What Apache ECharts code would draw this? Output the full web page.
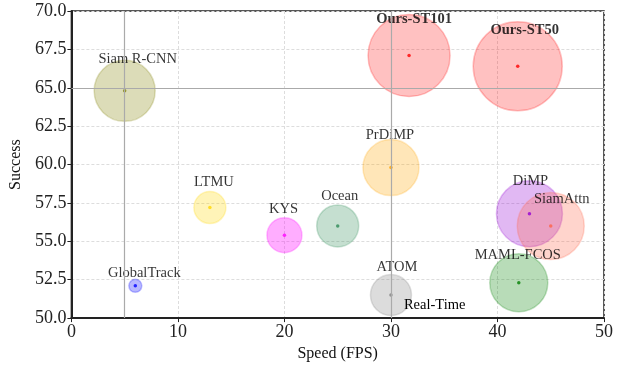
<!DOCTYPE html>
<html><head><meta charset="utf-8">
<script src="https://cdn.jsdelivr.net/npm/echarts@6/dist/echarts.min.js"></script>
<style>html,body{margin:0;padding:0;background:#fff}#c{width:623px;height:367px}</style>
</head><body><div id="c"></div>
<script>
const trackers = ['Siam R-CNN','Ours-ST101','Ours-ST50','PrDiMP','LTMU','KYS','GlobalTrack','Ocean','ATOM','DiMP','SiamAttn','MAML-FCOS'];
const speedFps = [5, 31.7, 41.9, 30, 13, 20, 6, 25, 30, 43, 45, 42];
const success = [64.8, 67.1, 66.4, 59.8, 57.2, 55.4, 52.1, 56.0, 51.5, 56.8, 56.0, 52.3];
const bubbleSize = [61, 82, 89, 56, 32, 35, 13, 42, 41, 66, 67, 58];
const xTicks = [0, 10, 20, 30, 40, 50];
const yTicks = [50, 52.5, 55, 57.5, 60, 62.5, 65, 67.5, 70];
const refSpeed = [5, 30];
const refSuccess = [65];
const realTimeNote = {name: 'Real-Time', x: 34.1, y: 50.85};

// styles
const baseColors = ['#808000','#ff0000','#ff0000','#ffa500','#ffd700','#ff00ff','#0000ff','#2e8b57','#808080','#9400d3','#ff6347','#008000'];
const fillAlpha = [0.35,0.3,0.3,0.35,0.35,0.4,0.35,0.35,0.35,0.35,0.35,0.35];
const labelOffset = [[13,-32],[5,-36],[7,-36],[-1,-32],[4,-25],[-1,-26],[9,-13],[2,-30],[6,-28],[1,-32],[11,-27],[-1,-28]];
const boldLabel = [false,true,true,false,false,false,false,false,false,false,false,false];

function rgba(hex,a){const n=parseInt(hex.slice(1),16);return `rgba(${n>>16&255},${n>>8&255},${n&255},${a})`;}
const font = '"Liberation Serif", "DejaVu Serif", serif';

const bubbles = trackers.map((t,i)=>({
  name:t, value:[speedFps[i], success[i]], symbolSize:bubbleSize[i],
  itemStyle:{color:rgba(baseColors[i],fillAlpha[i]), borderColor:rgba(baseColors[i],0.3), borderWidth:1.5},
  label:{show:true, formatter:t, position:'inside', offset:labelOffset[i], color:'#000',
    textBorderWidth:0, textBorderColor:'transparent',
    fontFamily:font, fontSize:14.5, fontWeight: boldLabel[i]?'bold':'normal'}
}));
const dots = trackers.map((t,i)=>({value:[speedFps[i], success[i]], itemStyle:{color:baseColors[i]}}));

const chart = echarts.init(document.getElementById('c'), null, {renderer:'canvas'});
chart.setOption({
  animation:false,
  grid:{left:70, right:19, top:11, bottom:48, show:true, borderColor:'#222', borderWidth:1.5},
  xAxis:{type:'value', min:xTicks[0], max:xTicks[xTicks.length-1], interval:10,
    name:'Speed (FPS)', nameLocation:'middle', nameGap:24,
    nameTextStyle:{fontFamily:font, fontSize:16, color:'#111'},
    axisLine:{show:true, lineStyle:{color:'#222', width:2}},
    axisTick:{show:true, length:4, lineStyle:{color:'#222'}},
    axisLabel:{fontFamily:font, fontSize:18, color:'#222', margin:5},
    splitLine:{show:true, lineStyle:{color:'#ddd', type:[3,2], width:1}}},
  yAxis:{type:'value', min:yTicks[0], max:yTicks[yTicks.length-1], interval:2.5,
    name:'Success', nameLocation:'middle', nameGap:46,
    nameTextStyle:{fontFamily:font, fontSize:16, color:'#111'},
    axisLine:{show:true, lineStyle:{color:'#222', width:2}},
    axisTick:{show:true, length:4, lineStyle:{color:'#222'}},
    axisLabel:{fontFamily:font, fontSize:18, color:'#222', margin:5, formatter:v=>v.toFixed(1)},
    splitLine:{show:true, lineStyle:{color:'#ddd', type:[3,2], width:1}}},
  series:[
    {type:'scatter', data:bubbles, z:2,
      markLine:{silent:true, symbol:'none', label:{show:false},
        lineStyle:{color:'#aaa', type:'solid', width:1.2},
        data:[...refSpeed.map(v=>({xAxis:v})), ...refSuccess.map(v=>({yAxis:v}))]},
      markPoint:{symbol:'circle', symbolSize:0,
        data:[{coord:[realTimeNote.x, realTimeNote.y], value:realTimeNote.name,
          label:{show:true, formatter:realTimeNote.name, fontFamily:font, fontSize:14.5, color:'#000',
            textBorderWidth:0, textBorderColor:'transparent'}}]}
    },
    {type:'scatter', data:dots, symbolSize:3.5, z:3, silent:true}
  ]
});
</script></body></html>
